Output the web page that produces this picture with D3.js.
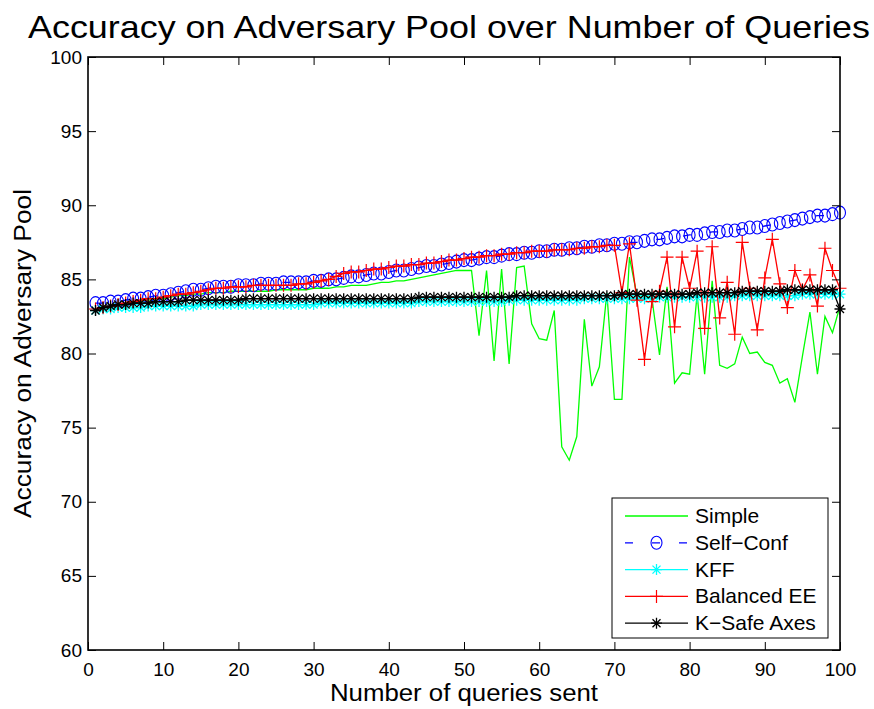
<!DOCTYPE html>
<html>
<head>
<meta charset="utf-8">
<script src="https://cdn.jsdelivr.net/npm/d3@7"></script>
<style>
  html, body { margin: 0; padding: 0; background: #fff; }
  svg { display: block; font-family: "Liberation Sans", Arial, Helvetica, sans-serif; }
</style>
</head>
<body>
<svg id="chart" width="874" height="709"></svg>
<script>
// queries sent 1..100
const queries = d3.range(1, 101);

const simple = [
  82.9, 83.0, 83.1, 83.2, 83.3, 83.4, 83.5, 83.6, 83.6, 83.7,
  83.8, 83.9, 83.9, 84.0, 84.0, 84.1, 84.1, 84.1, 84.2, 84.2,
  84.2, 84.2, 84.2, 84.2, 84.3, 84.3, 84.3, 84.3, 84.3, 84.4,
  84.4, 84.4, 84.5, 84.5, 84.6, 84.6, 84.6, 84.7, 84.8, 84.8,
  84.9, 84.9, 85.0, 85.1, 85.2, 85.3, 85.4, 85.5, 85.6, 85.6,
  85.6, 81.2, 85.6, 79.5, 85.7, 79.3, 85.8, 85.9, 82.0, 81.0,
  80.9, 82.9, 73.7, 72.8, 74.4, 82.3, 77.8, 79.1, 84.1, 76.9,
  76.9, 86.5, 83.9, 83.9, 83.7, 79.9, 84.5, 78.0, 78.7, 78.6,
  84.0, 78.6, 84.9, 79.2, 79.0, 79.3, 81.1, 80.0, 80.1, 79.4,
  79.2, 78.0, 78.3, 76.7, 79.8, 82.8, 78.6, 82.5, 81.4, 83.2
];

const selfConf = [
  83.4, 83.4, 83.5, 83.5, 83.6, 83.7, 83.7, 83.8, 83.9, 83.9,
  84.0, 84.1, 84.2, 84.3, 84.3, 84.4, 84.5, 84.5, 84.5, 84.6,
  84.6, 84.6, 84.7, 84.7, 84.7, 84.8, 84.8, 84.8, 84.8, 84.9,
  84.9, 85.0, 85.0, 85.1, 85.2, 85.2, 85.3, 85.4, 85.4, 85.5,
  85.6, 85.6, 85.7, 85.8, 85.9, 85.9, 86.0, 86.1, 86.2, 86.3,
  86.3, 86.4, 86.5, 86.5, 86.6, 86.7, 86.7, 86.8, 86.8, 86.9,
  86.9, 87.0, 87.0, 87.1, 87.1, 87.2, 87.2, 87.3, 87.3, 87.4,
  87.4, 87.5, 87.5, 87.6, 87.7, 87.7, 87.8, 87.9, 87.9, 88.0,
  88.0, 88.1, 88.2, 88.2, 88.3, 88.3, 88.4, 88.5, 88.5, 88.6,
  88.7, 88.8, 88.9, 89.0, 89.1, 89.2, 89.3, 89.3, 89.4, 89.5
];

const kff = [
  82.9, 83.0, 83.0, 83.1, 83.1, 83.1, 83.1, 83.2, 83.2, 83.2,
  83.2, 83.2, 83.2, 83.2, 83.3, 83.3, 83.3, 83.3, 83.3, 83.3,
  83.3, 83.3, 83.3, 83.3, 83.3, 83.3, 83.3, 83.3, 83.3, 83.3,
  83.4, 83.4, 83.4, 83.4, 83.4, 83.4, 83.4, 83.4, 83.4, 83.4,
  83.4, 83.4, 83.4, 83.5, 83.5, 83.5, 83.5, 83.5, 83.5, 83.5,
  83.5, 83.5, 83.5, 83.5, 83.5, 83.6, 83.6, 83.6, 83.6, 83.6,
  83.6, 83.6, 83.6, 83.6, 83.6, 83.7, 83.7, 83.7, 83.7, 83.7,
  83.7, 83.7, 83.7, 83.7, 83.7, 83.8, 83.8, 83.8, 83.8, 83.8,
  83.8, 83.8, 83.8, 83.8, 83.8, 83.9, 83.9, 83.9, 83.9, 83.9,
  83.9, 83.9, 83.9, 83.9, 84.0, 84.0, 84.0, 84.0, 84.0, 84.0
];

const balancedEE = [
  83.0, 83.1, 83.2, 83.3, 83.4, 83.5, 83.6, 83.7, 83.7, 83.8,
  83.9, 84.0, 84.0, 84.1, 84.2, 84.3, 84.4, 84.4, 84.5, 84.5,
  84.5, 84.6, 84.6, 84.6, 84.6, 84.6, 84.6, 84.7, 84.7, 84.8,
  84.9, 85.0, 85.2, 85.4, 85.5, 85.5, 85.6, 85.7, 85.7, 85.8,
  85.9, 85.9, 86.0, 86.0, 86.1, 86.1, 86.2, 86.3, 86.3, 86.4,
  86.5, 86.5, 86.6, 86.6, 86.7, 86.7, 86.8, 86.8, 86.9, 86.9,
  86.9, 87.0, 87.0, 87.0, 87.1, 87.1, 87.2, 87.2, 87.3, 87.3,
  84.1, 87.4, 83.6, 79.6, 83.5, 84.2, 86.5, 81.8, 86.5, 84.4,
  86.9, 81.7, 87.2, 82.4, 84.8, 81.3, 87.5, 84.4, 81.6, 85.1,
  87.7, 84.7, 83.1, 85.6, 84.3, 85.3, 83.2, 87.1, 85.6, 84.4
];

const kSafe = [
  82.9, 83.1, 83.2, 83.3, 83.3, 83.4, 83.4, 83.4, 83.5, 83.5,
  83.5, 83.5, 83.6, 83.6, 83.6, 83.6, 83.6, 83.6, 83.6, 83.6,
  83.7, 83.7, 83.7, 83.7, 83.7, 83.7, 83.7, 83.7, 83.7, 83.7,
  83.7, 83.7, 83.7, 83.7, 83.7, 83.7, 83.7, 83.7, 83.7, 83.7,
  83.7, 83.7, 83.7, 83.8, 83.8, 83.8, 83.8, 83.8, 83.8, 83.8,
  83.8, 83.8, 83.8, 83.8, 83.8, 83.8, 83.9, 83.9, 83.9, 83.9,
  83.9, 83.9, 83.9, 83.9, 83.9, 83.9, 83.9, 83.9, 83.9, 83.9,
  84.0, 84.0, 84.0, 84.0, 84.0, 84.0, 84.0, 84.0, 84.0, 84.0,
  84.1, 84.1, 84.1, 84.1, 84.1, 84.1, 84.2, 84.2, 84.2, 84.2,
  84.2, 84.2, 84.3, 84.3, 84.3, 84.3, 84.3, 84.3, 84.3, 83.0
];

const xTicks = [0, 10, 20, 30, 40, 50, 60, 70, 80, 90, 100];
const yTicks = [60, 65, 70, 75, 80, 85, 90, 95, 100];

const series = [
  { name: "Simple", values: simple, color: "#00ff00", marker: null, dash: null },
  { name: "Self\u2212Conf", values: selfConf, color: "#0000ff", marker: "circle", dash: "8,19" },
  { name: "KFF", values: kff, color: "#00ffff", marker: "star", dash: null },
  { name: "Balanced EE", values: balancedEE, color: "#ff0000", marker: "plus", dash: null },
  { name: "K\u2212Safe Axes", values: kSafe, color: "#000000", marker: "star", dash: null }
];

const svg = d3.select("#chart");
const plotLeft = 88, plotRight = 840, plotTop = 57, plotBottom = 650;

const x = d3.scaleLinear().domain([0, 100]).range([plotLeft, plotRight]);
const y = d3.scaleLinear().domain([60, 100]).range([plotBottom, plotTop]);

// marker shapes (MATLAB style, stroked)
function drawMarker(g, kind, color) {
  if (kind === "circle") {
    g.append("ellipse").attr("rx", 5.5).attr("ry", 6.5)
      .attr("fill", "none").attr("stroke", color).attr("stroke-width", 1.1);
  } else if (kind === "plus") {
    g.append("path").attr("d", "M-6.5,0H6.5M0,-6.5V6.5")
      .attr("stroke", color).attr("stroke-width", 1.2).attr("fill", "none");
  } else if (kind === "star") {
    g.append("path").attr("d", "M-5.5,0H5.5M0,-5.5V5.5M-4,-4L4,4M-4,4L4,-4")
      .attr("stroke", color).attr("stroke-width", 1.3).attr("fill", "none");
  }
}

const line = d3.line()
  .x((d, i) => x(queries[i]))
  .y(d => y(d));

const plot = svg.append("g");
series.forEach(s => {
  plot.append("path")
    .datum(s.values)
    .attr("fill", "none")
    .attr("stroke", s.color)
    .attr("stroke-width", 1.3)
    .attr("stroke-dasharray", s.dash)
    .attr("d", line);
  if (s.marker) {
    s.values.forEach((v, i) => {
      const m = plot.append("g").attr("transform", `translate(${x(queries[i])},${y(v)})`);
      drawMarker(m, s.marker, s.color);
    });
  }
});

// axes with inward ticks on all four sides
const tickFont = "19px";
svg.append("g")
  .attr("transform", `translate(0,${plotBottom})`)
  .call(d3.axisBottom(x).tickValues(xTicks).tickSize(-8).tickPadding(13).tickSizeOuter(0))
  .call(g => g.selectAll("text").style("font-size", tickFont).attr("fill", "#000"));
svg.append("g")
  .attr("transform", `translate(0,${plotTop})`)
  .call(d3.axisTop(x).tickValues(xTicks).tickSize(-8).tickFormat("").tickSizeOuter(0));
svg.append("g")
  .attr("transform", `translate(${plotLeft},0)`)
  .call(d3.axisLeft(y).tickValues(yTicks).tickSize(-8).tickPadding(6).tickSizeOuter(0))
  .call(g => g.selectAll("text").style("font-size", tickFont).attr("fill", "#000"));
svg.append("g")
  .attr("transform", `translate(${plotRight},0)`)
  .call(d3.axisRight(y).tickValues(yTicks).tickSize(-8).tickFormat("").tickSizeOuter(0));

svg.selectAll(".domain").remove();
svg.selectAll(".tick line").attr("stroke", "#000").attr("stroke-width", 1);

svg.append("rect")
  .attr("x", plotLeft).attr("y", plotTop)
  .attr("width", plotRight - plotLeft).attr("height", plotBottom - plotTop)
  .attr("fill", "none").attr("stroke", "#000").attr("stroke-width", 1.6);

// titles
svg.append("text")
  .attr("x", 449).attr("y", 38)
  .attr("text-anchor", "middle")
  .attr("textLength", 842).attr("lengthAdjust", "spacingAndGlyphs")
  .style("font-size", "32px")
  .text("Accuracy on Adversary Pool over Number of Queries");

svg.append("text")
  .attr("x", (plotLeft + plotRight) / 2).attr("y", 701)
  .attr("text-anchor", "middle")
  .attr("textLength", 268).attr("lengthAdjust", "spacingAndGlyphs")
  .style("font-size", "23px")
  .text("Number of queries sent");

svg.append("text")
  .attr("transform", `translate(31,${(plotTop + plotBottom) / 2}) rotate(-90)`)
  .attr("text-anchor", "middle")
  .attr("textLength", 329).attr("lengthAdjust", "spacingAndGlyphs")
  .style("font-size", "23px")
  .text("Accuracy on Adversary Pool");

// legend
const legend = svg.append("g");
legend.append("rect")
  .attr("x", 612).attr("y", 498)
  .attr("width", 216).attr("height", 140)
  .attr("fill", "#fff").attr("stroke", "#000").attr("stroke-width", 1);

series.forEach((s, i) => {
  const ry = 516 + i * 26.8;
  legend.append("line")
    .attr("x1", 625).attr("x2", 688)
    .attr("y1", ry).attr("y2", ry)
    .attr("stroke", s.color).attr("stroke-width", 1.3)
    .attr("stroke-dasharray", s.dash);
  if (s.marker) {
    const m = legend.append("g").attr("transform", `translate(656.5,${ry})`);
    drawMarker(m, s.marker, s.color);
  }
  legend.append("text")
    .attr("x", 695).attr("y", ry + 7)
    .style("font-size", "21px")
    .text(s.name);
});
</script>
</body>
</html>
